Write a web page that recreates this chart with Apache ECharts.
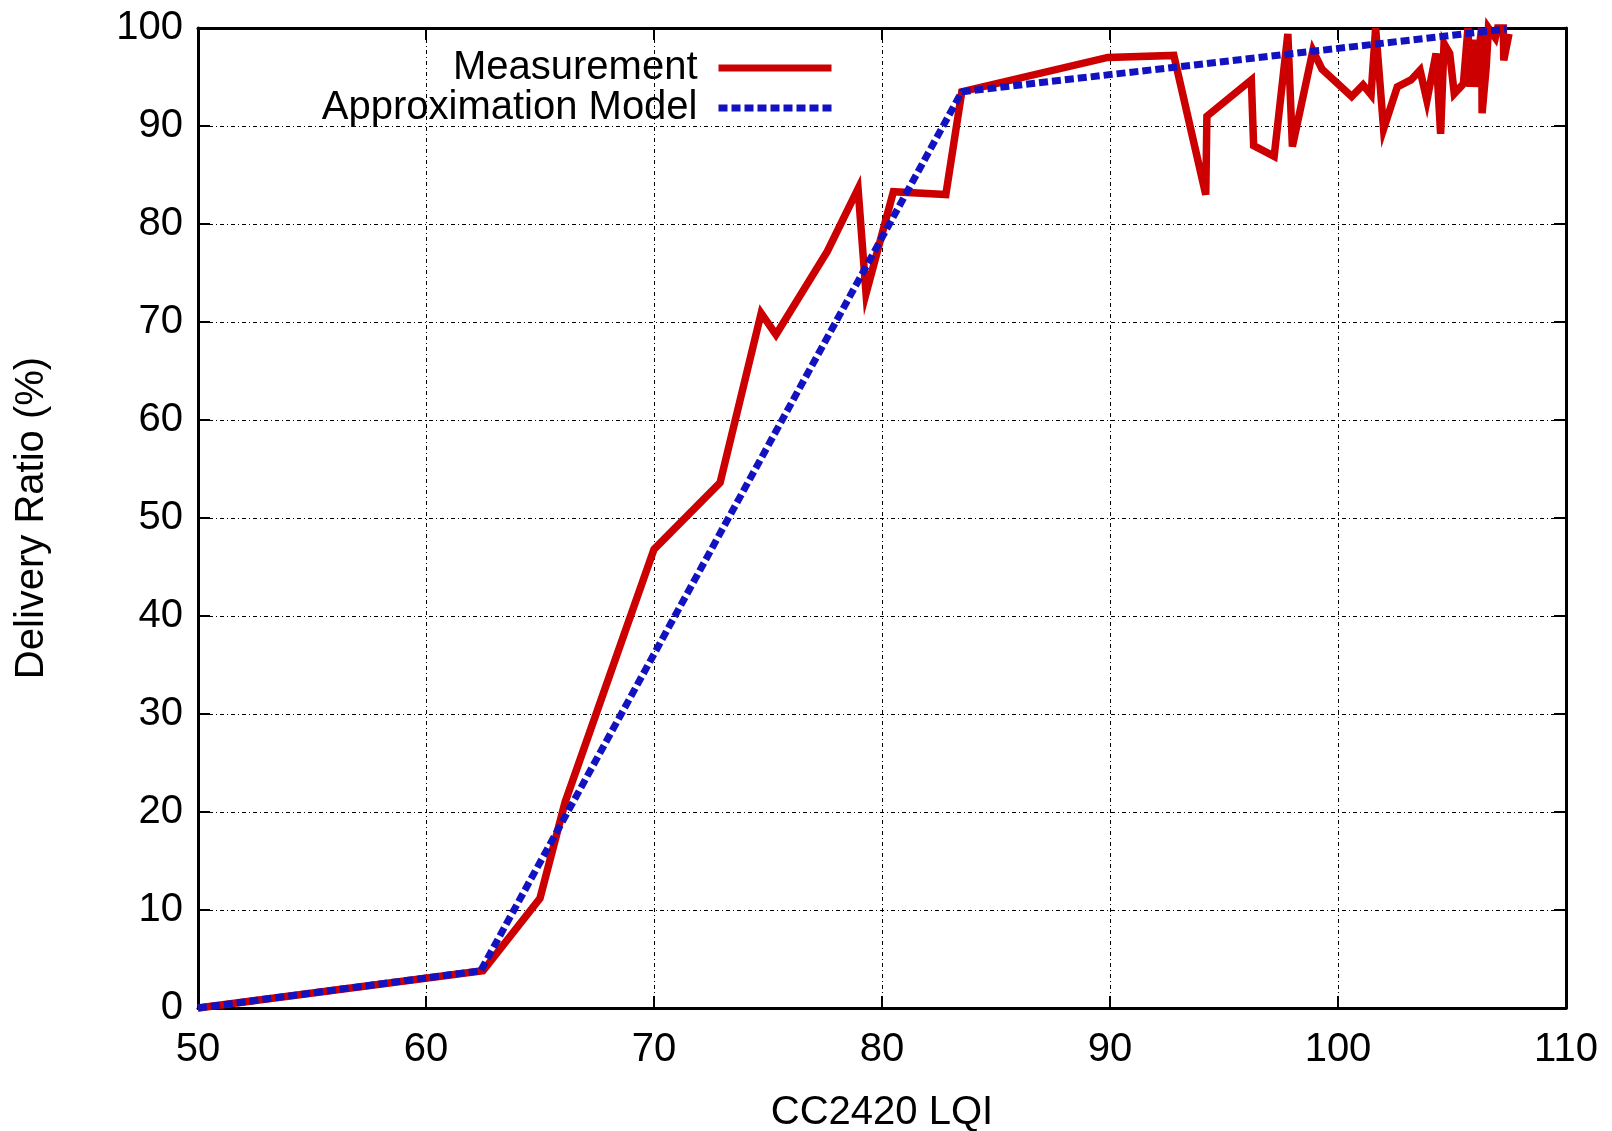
<!DOCTYPE html>
<html>
<head>
<meta charset="utf-8">
<script src="https://cdn.jsdelivr.net/npm/echarts@6/dist/echarts.min.js"></script>
<style>
  html, body { margin: 0; padding: 0; background: #fff; }
  #chart { width: 1612px; height: 1131px; }
</style>
</head>
<body>
<div id="chart"></div>
<script>
// Measurement (CC2420 LQI vs delivery ratio %)
var measLQI = [50, 62.5, 65.0, 66.1, 70.0, 72.9, 74.7, 75.35, 77.6, 78.95, 79.3, 80.5, 82.8, 83.5,
  89.9, 92.8, 94.2, 94.25, 96.2, 96.3, 97.2, 97.8, 98.0, 98.9, 99.3, 100.6, 101.1, 101.45, 101.65,
  102.0, 102.6, 103.2, 103.6, 103.9, 104.3, 104.5, 104.65, 104.9, 105.1, 105.5, 105.7, 105.8, 105.9,
  106.0, 106.3, 106.32, 106.5, 106.6, 106.9, 107.0, 107.25, 107.27, 107.5];
var measPDR = [0, 3.8, 11.2, 21.0, 46.8, 53.6, 70.9, 68.7, 77.2, 83.6, 72.9, 83.3, 83.0, 93.5,
  97.0, 97.2, 83.0, 91.0, 94.7, 88.0, 86.9, 99.4, 87.9, 97.7, 95.8, 93.0, 94.2, 93.2, 100,
  89.7, 94.0, 94.7, 95.7, 92.6, 97.4, 89.2, 98.4, 97.4, 93.3, 94.3, 100, 94.0, 98.8,
  94.0, 100, 91.3, 96.0, 100, 99.0, 100, 100, 96.7, 99.4];

// Approximation model (piecewise linear)
var modelLQI = [50, 62.4, 83.5, 107.4];
var modelPDR = [0, 3.8, 93.5, 99.9];

var xMin = 50, xMax = 110, xStep = 10;
var yMin = 0, yMax = 100, yStep = 10;

var seriesNames = ['Measurement', 'Approximation Model'];
var xTitle = 'CC2420 LQI';
var yTitle = 'Delivery Ratio (%)';

function pairs(xs, ys) { return xs.map(function (x, i) { return [x, ys[i]]; }); }

var FONT = '"Liberation Sans", Arial, Helvetica, sans-serif';
var RED = '#cc0000';
var BLUE = '#1212c0';
var gridDash = { color: '#000', width: 1, type: [4, 3, 1, 3] };

var chart = echarts.init(document.getElementById('chart'), null, { renderer: 'canvas' });

function legendCfg(name, top) {
  return {
    data: [name],
    right: 772, top: top, align: 'right', orient: 'vertical',
    itemWidth: 113, itemHeight: 14,
    itemStyle: { opacity: 0, borderWidth: 0 },
    lineStyle: { width: 7 },
    textStyle: { fontFamily: FONT, fontSize: 40, color: '#000', padding: [0, 16, 0, 0] },
    selectedMode: false
  };
}

var option = {
  backgroundColor: '#ffffff',
  animation: false,
  textStyle: { fontFamily: FONT, color: '#000' },
  grid: { left: 198, right: 46, top: 28, bottom: 123, containLabel: false, outerBoundsMode: 'none' },
  legend: [legendCfg(seriesNames[0], 43), legendCfg(seriesNames[1], 83)],
  xAxis: [
    {
      type: 'value', min: xMin, max: xMax, interval: xStep,
      name: xTitle, nameLocation: 'middle', nameGap: 85,
      nameTextStyle: { fontFamily: FONT, fontSize: 40, color: '#000' },
      axisLine: { show: true, onZero: false, lineStyle: { color: '#000', width: 3 } },
      axisTick: { show: true, inside: true, length: 12, lineStyle: { color: '#000', width: 2 } },
      axisLabel: { fontFamily: FONT, fontSize: 40, color: '#000', margin: 22 },
      splitLine: { show: true, lineStyle: gridDash }
    },
    {
      type: 'value', min: xMin, max: xMax, interval: xStep, position: 'top',
      axisLine: { show: true, onZero: false, lineStyle: { color: '#000', width: 3 } },
      axisTick: { show: true, inside: true, length: 12, lineStyle: { color: '#000', width: 2 } },
      axisLabel: { show: false },
      splitLine: { show: false }
    }
  ],
  yAxis: [
    {
      type: 'value', min: yMin, max: yMax, interval: yStep,
      name: yTitle, nameLocation: 'middle', nameGap: 146, nameRotate: 90,
      nameTextStyle: { fontFamily: FONT, fontSize: 40, color: '#000' },
      axisLine: { show: true, onZero: false, lineStyle: { color: '#000', width: 3 } },
      axisTick: { show: true, inside: true, length: 12, lineStyle: { color: '#000', width: 2 } },
      axisLabel: { fontFamily: FONT, fontSize: 40, color: '#000', margin: 15 },
      splitLine: { show: true, lineStyle: gridDash }
    },
    {
      type: 'value', min: yMin, max: yMax, interval: yStep, position: 'right',
      axisLine: { show: true, onZero: false, lineStyle: { color: '#000', width: 3 } },
      axisTick: { show: true, inside: true, length: 12, lineStyle: { color: '#000', width: 2 } },
      axisLabel: { show: false },
      splitLine: { show: false }
    }
  ],
  series: [
    {
      name: seriesNames[0], type: 'line',
      data: pairs(measLQI, measPDR),
      symbol: 'none', clip: false, z: 3,
      color: RED,
      lineStyle: { color: RED, width: 7.5, join: 'miter', miterLimit: 6 }
    },
    {
      name: seriesNames[1], type: 'line',
      data: pairs(modelLQI, modelPDR),
      symbol: 'none', clip: false, z: 4,
      color: BLUE,
      lineStyle: { color: BLUE, width: 7, type: [9, 4] }
    }
  ]
};

chart.setOption(option);
</script>
</body>
</html>
